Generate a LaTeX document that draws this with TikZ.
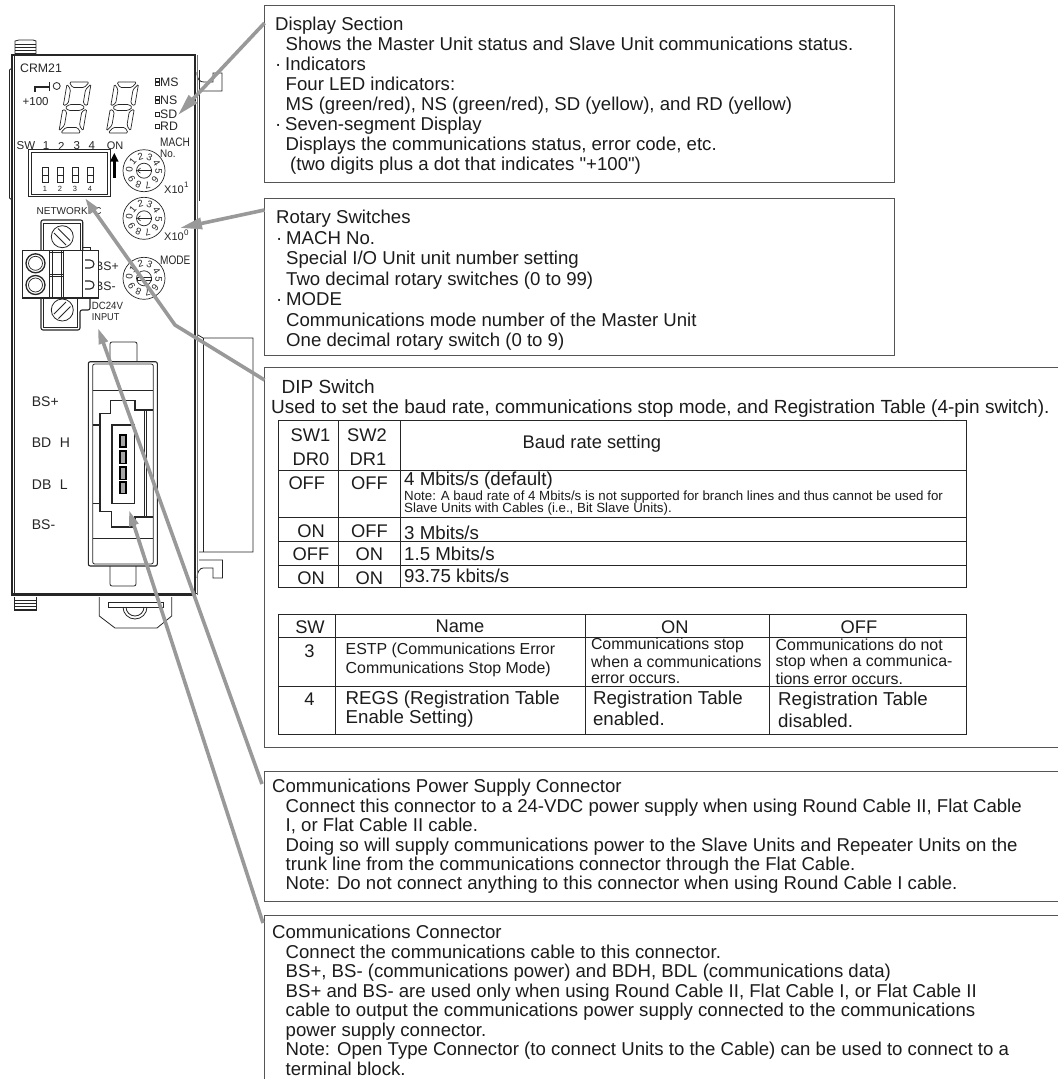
\documentclass[tikz,border=0pt]{standalone}
\usepackage{fontspec}
\setmainfont{Liberation Sans}[Ligatures=TeXOff]
\usetikzlibrary{arrows.meta}
\definecolor{boxln}{HTML}{555555}
\definecolor{leadgr}{HTML}{999999}
\definecolor{txtc}{HTML}{1C1C1C}
\newcommand{\fs}[1]{\fontsize{#1}{#1}\selectfont}
\newcommand{\dotb}{\makebox[10pt][l]{·}}
\newcommand{\sevenseg}[1]{%
\begin{scope}[shift={#1},xslant=0.17,dev,rounded corners=1.5pt,line width=.7pt]
\draw (-10,-25.5)--(10,-25.5)--(6,-20)--(-6,-20)--cycle;
\draw (-12,-23.5)--(-7.5,-18)--(-7.5,-4)--(-12,-1.5)--cycle;
\draw (12,-23.5)--(7.5,-18)--(7.5,-4)--(12,-1.5)--cycle;
\draw (-10,0)--(-6,-3)--(6,-3)--(10,0)--(6,3)--(-6,3)--cycle;
\draw (-12,23.5)--(-7.5,18)--(-7.5,4)--(-12,1.5)--cycle;
\draw (12,23.5)--(7.5,18)--(7.5,4)--(12,1.5)--cycle;
\draw (-10,25.5)--(10,25.5)--(6,20)--(-6,20)--cycle;
\end{scope}}
\newcommand{\rotary}[3]{% name, centre, list of digit/angle
\begin{scope}[shift={#2}]
\draw[dev,line width=.7pt] (0,0) circle (21);
\draw[dev,line width=.7pt] (0,0) circle (7.5);
\foreach \d/\a in {#3}{\node[rotdig,rotate=\a-90] (#1-\d) at (\a:14.7 and -14.7) {\d};}
\end{scope}}
\tikzset{
 x=1pt,y=-1pt,
 dev/.style={draw=black!85,line width=.8pt},
 devthick/.style={draw=black!85,line width=1.1pt},
 boxline/.style={draw=boxln,line width=1pt},
 tabline/.style={draw=black!85,line width=.9pt},
 leader/.style={draw=leadgr,line width=3.6pt,-{Triangle[length=22pt,width=11pt]}},
 leaderb/.style={draw=leadgr,line width=3.6pt,-{Triangle[length=16pt,width=9pt]}},
 body/.style={anchor=north west,inner sep=0pt,align=left,text=txtc,font=\fontsize{18.6}{#1}\selectfont},
 body/.default=20,
 cell/.style={anchor=center,inner sep=0pt,text=txtc,font=\fs{18.3}},
 lcell/.style={anchor=west,inner sep=0pt,text=txtc,font=\fs{18.7}},
 mcell/.style={anchor=west,inner sep=0pt,text=txtc,font=\fs{15.9}},
 small/.style={anchor=west,inner sep=0pt,text=txtc,font=\fs{13.3}},
 lab/.style={anchor=west,inner sep=0pt,text=black!85,font=\fs{12.3}},
 nlab/.style={anchor=west,inner sep=0pt,text=black!85,font=\fs{10}},
 big/.style={anchor=west,inner sep=0pt,text=black!85,font=\fs{14}},
 rotdig/.style={inner sep=0pt,text=black!85,font=\fs{9.6}},
}
\begin{document}
\begin{tikzpicture}
\useasboundingbox (0,0) rectangle (1058,1079);
\fill[white] (0,0) rectangle (1058,1079);
%%% ---- device ----
% screws
\draw[dev] (15,55)--(15,41)--(19,40)--(33,40)--(36,41)--(36,55);
\foreach \yy in {44,47,50,53}{\draw[dev,line width=.5pt] (15,\yy)--(36,\yy);}
\draw[dev] (14.5,597)--(14.5,610)--(36.5,610)--(36.5,597);
\foreach \yy in {600,603,606,609}{\draw[dev,line width=.5pt] (14.5,\yy)--(36.5,\yy);}
% side parts
\draw[dev] (12,68)--(9.5,70)--(9.5,198)--(12,200);
\draw[dev] (199.5,70)--(199.5,201);
\draw[dev] (197,72) .. controls (197,80) and (200,82) .. (204,82) -- (213,82)--(213,73)--(222,73)--(222,91)--(200,91);
\draw[dev] (198,335)--(203,338)--(253,338)--(253,552)--(199,552);
\draw[dev] (203,338)--(203,552);
\draw[dev] (197,578) .. controls (197,572) and (200,568) .. (203,568) -- (213,568)--(213,578)--(222.5,578)--(222.5,560)--(199,560);
% body
\draw[devthick] (12,55) rectangle (195,595);
\draw[dev] (14.5,55)--(14.5,595);
\draw[dev] (12,593)--(197,593);
\draw[draw=black!55,line width=1.6pt] (197.5,55)--(197.5,595);
% latch
\draw[dev] (99.3,597)--(99.3,616)--(115,628)--(157,628)--(171.7,616)--(171.7,597);
\draw[dev] (108,602) rectangle (163,607);
\draw[dev] (123,607) arc[start angle=180,end angle=360,x radius=12,y radius=-12];
\draw[dev] (126,607) arc[start angle=180,end angle=360,x radius=9,y radius=-9];
% labels top
\node[lab] (crm) at (20,68) {CRM21};
\node[nlab,font=\fs{11.5}] (plus) at (22.5,102) {+100};
\draw[devthick] (35,92)--(35,87)--(49,87);
\draw[dev] (49.3,82)--(49.3,91);
\draw[dev] (56.7,86) circle (3.5);
\sevenseg{(75,107.5)}
\sevenseg{(122.5,107.5)}
% LEDs
\node[lab] (ms) at (160,82) {MS};
\node[lab] (ns) at (160,100) {NS};
\node[lab] (sd) at (160,114) {SD};
\node[lab] (rd) at (160,126) {RD};
\foreach \yy in {78,82,96,100}{\draw[dev,line width=.6pt] (155.5,\yy) rectangle +(3.5,3.5);}
\foreach \yy in {112,124}{\draw[dev,line width=.6pt] (155,\yy) rectangle +(4,4);}
% DIP switch
\node[lab,anchor=center,font=\fs{11.5}] (swt) at (26,146) {SW};
\foreach \n/\xx in {1/46,2/61.3,3/76.7,4/91.7}{\node[lab,anchor=center,font=\fs{11.5}] (swn\n) at (\xx,146) {\n};}
\node[lab,anchor=center,font=\fs{11}] (onl) at (115,146) {ON};
\draw[dev,line width=1pt] (28.3,149.3) rectangle (110,196.7);
\draw[dev,line width=.7pt] (31,152) rectangle (107.3,194);
\foreach \n/\xx in {1/45,2/60,3/75,4/90}{
 \draw[dev,line width=.7pt] (\xx-3,167) rectangle (\xx+3,182.7);
 \draw[dev,line width=.7pt] (\xx-3,175)--(\xx+3,175);
 \node[rotdig,font=\fs{7.5}] (swd\n) at (\xx,189) {\n};}
\draw[draw=black,line width=2.4pt,-{Triangle[length=9pt,width=8pt]}] (114.3,178)--(114.3,152.7);
% rotary switches
\node[lab,xscale=.82] (mach) at (160,142.7) {MACH};
\node[lab,font=\fs{11},xscale=.9] (mno) at (160,153.5) {No.};
\rotary{ra}{(144,170.7)}{0/175,1/140,2/104,3/68,4/32,5/-4,6/-40,7/-76,8/-112,9/-148}
\rotary{rb}{(144,218.3)}{0/175,1/140,2/104,3/68,4/32,5/-4,6/-40,7/-76,8/-112,9/-148}
\rotary{rc}{(144,278.3)}{0/175,1/140,2/104,3/68,4/32,5/-4,6/-40,7/-76,8/-112,9/-148}
\draw[dev,line width=.6pt,-{Straight Barb[length=3pt,width=5pt]}] (151,170.7)--(137,170.7);
\draw[dev,line width=.6pt] (151,169)--(151,172.4);
\draw[dev,line width=.6pt,-{Straight Barb[length=3pt,width=5pt]}] (151,218.3)--(137,218.3);
\draw[dev,line width=.6pt] (151,216.6)--(151,220);
\draw[dev,line width=.6pt] (137,276.8) rectangle (151,279.8);
\node[lab,font=\fs{11}] (x1) at (164,189.3) {X10};
\node[lab,font=\fs{8}] (x1s) at (184,184.5) {1};
\node[lab,font=\fs{11}] (x0) at (164,237) {X10};
\node[lab,font=\fs{8}] (x0s) at (184,232.5) {0};
\node[lab,xscale=.82] (mode) at (160,260.7) {MODE};
% power connector
\node[nlab] (netw) at (36.5,210.7) {NETWORKPC};
\node[lab] (bsp) at (95,266) {BS+};
\node[lab] (bsm) at (95,286) {BS-};
\node[nlab,font=\fs{10.5},xscale=.92] (dc) at (91.7,305.7) {DC24V};
\node[nlab,xscale=.92] (inp) at (91.7,317.5) {INPUT};
\draw[devthick,fill=white,rounded corners=2pt] (41,298)--(41,330)--(80,330)--(80,310)--(90,310)--(90,298);
\draw[devthick,fill=white,rounded corners=2pt] (41,251)--(41,220)--(82.7,220)--(82.7,251);
\draw[dev] (43.5,251)--(43.5,223)--(80,223)--(80,251);
\draw[dev] (43.5,298)--(43.5,327.5)--(77.5,327.5)--(77.5,298);
\draw[dev] (62.3,236.7) circle (11);
\draw[dev] (62.3,310) circle (11);
\draw[dev] (54,233)--(66,245) (58,228.5)--(70,240.5);
\draw[dev] (54,314)--(66,302) (58.5,318.5)--(70.5,306.5);
\draw[dev] (82.7,250.7)--(82.7,247)--(90,247)--(90,250.7);
\draw[devthick,fill=white] (22.7,250.7) rectangle (98.3,298);
\draw[dev] (49,250.7)--(49,298) (52,250.7)--(52,298) (61,250.7)--(61,298) (63.5,250.7)--(63.5,298) (82.7,250.7)--(82.7,298);
\draw[dev] (49,252)--(64,252) (49,274)--(64,274) (49,276.5)--(64,276.5);
\draw[dev,line width=1.3pt] (35.5,263.3) circle (9.5);
\draw[dev,line width=.7pt] (35.5,263.3) circle (7);
\draw[dev,line width=1.3pt] (35.5,285) circle (9.5);
\draw[dev,line width=.7pt] (35.5,285) circle (7);
\draw[dev,line width=1.1pt] (85,260)--(90,260) arc[start angle=90,end angle=-90,x radius=4,y radius=-4] --(85,268);
\draw[dev,line width=1.1pt] (85,281)--(90,281) arc[start angle=90,end angle=-90,x radius=4,y radius=-4] --(85,289);
% lower connector
\node[big] (lbp) at (31.7,402) {BS+};
\node[big] (lbh) at (31.7,442.5) {BD\hspace{8.6pt}H};
\node[big] (lbl) at (31.7,484.5) {DB\hspace{8.6pt}L};
\node[big] (lbm) at (31.7,525) {BS-};
\draw[dev,rounded corners=2pt] (110,361.7)--(110,342)--(137,342)--(137,361.7);
\draw[dev,rounded corners=2pt] (110,566)--(110,586)--(136,586)--(136,566);
\draw[devthick,rounded corners=2pt] (88.3,361.7) rectangle (157.3,566);
\draw[dev,rounded corners=2pt] (92.7,364) rectangle (153.3,564);
\draw[dev] (92.7,390)--(153.3,390) (92.7,538.3)--(153.3,538.3);
\draw[devthick] (92.7,425)--(100,425)--(100,413.3)--(110.7,413.3)--(110.7,400.7)--(135,400.7)--(135,410)--(153.3,410);
\draw[devthick] (92.7,503.3)--(100,503.3) (100,413.3)--(100,511.7)--(111.7,511.7)--(111.7,527)--(135,527)--(135,517)--(153.3,517);
\draw[dev] (144,410)--(144,517) (146.5,410)--(146.5,517);
\draw[devthick,line width=1.6pt] (111.7,425) rectangle (134.3,503.3);
\foreach \ya/\yb in {435/447,450.7/463.3,466.7/479.3,481.7/493.3}{
 \draw[draw=black,fill=black!35,line width=1.6pt] (120,\ya) rectangle (126,\yb);}
%%% ---- callout boxes ----
\node[body=20] (tdisp) at (275,17.2) {Display Section\\
\hspace*{10.5pt}Shows the Master Unit status and Slave Unit communications status.\\
\dotb Indicators\\
\hspace*{10.5pt}Four LED indicators:\\
\hspace*{10.5pt}MS (green/red), NS (green/red), SD (yellow), and RD (yellow)\\
\dotb Seven-segment Display\\
\hspace*{10.5pt}Displays the communications status, error code, etc.\\
\hspace*{15pt}(two digits plus a dot that indicates "+100")};
\node[body=20.5] (trot) at (276,209.9) {Rotary Switches\\
\dotb MACH No.\\
\hspace*{10pt}Special I/O Unit unit number setting\\
\hspace*{10pt}Two decimal rotary switches (0 to 99)\\
\dotb MODE\\
\hspace*{10pt}Communications mode number of the Master Unit\\
\hspace*{10pt}One decimal rotary switch (0 to 9)};
\node[body=20,font=\fontsize{19}{20}\selectfont] (tdip) at (271,379.9) {\hspace*{10.5pt}DIP Switch\\
Used to set the baud rate, communications stop mode, and Registration Table (4-pin switch).};
\node[body=19.4] (tpow) at (272,779.2) {Communications Power Supply Connector\\
\hspace*{13.5pt}Connect this connector to a 24-VDC power supply when using Round Cable II, Flat Cable\\
\hspace*{13.5pt}I, or Flat Cable II cable.\\
\hspace*{13.5pt}Doing so will supply communications power to the Slave Units and Repeater Units on the\\
\hspace*{13.5pt}trunk line from the communications connector through the Flat Cable.\\
\hspace*{13.5pt}Note: Do not connect anything to this connector when using Round Cable I cable.};
\node[body=19.5] (tcom) at (272,924.9) {Communications Connector\\
\hspace*{13.5pt}Connect the communications cable to this connector.\\
\hspace*{13.5pt}BS+, BS- (communications power) and BDH, BDL (communications data)\\
\hspace*{13.5pt}BS+ and BS- are used only when using Round Cable II, Flat Cable I, or Flat Cable II\\
\hspace*{13.5pt}cable to output the communications power supply connected to the communications\\
\hspace*{13.5pt}power supply connector.\\
\hspace*{13.5pt}Note: Open Type Connector (to connect Units to the Cable) can be used to connect to a\\
\hspace*{13.5pt}terminal block.};
\draw[boxline] (264.5,5) coordinate (cdisp) rectangle (894,182.7);
\draw[boxline] (264.5,198) coordinate (crot) rectangle (894,355);
\draw[boxline] (1058,367.7)--(264.5,367.7) coordinate (cdip) --(264.5,747.7)--(1058,747.7);
\draw[boxline] (1058,771.7)--(264.5,771.7) coordinate (cpow) --(264.5,901)--(1058,901);
\draw[boxline] (1058,915)--(264.5,915) coordinate (ccom) --(264.5,1079);
%%% ---- tables ----
\draw[tabline] (278.8,420.7) rectangle (966.7,587.7);
\draw[tabline] (278.8,470.3)--(966.7,470.3) (278.8,517.3)--(966.7,517.3) (278.8,541)--(966.7,541) (278.8,565.3)--(966.7,565.3);
\draw[tabline] (338.4,420.7)--(338.4,587.7) (400,420.7)--(400,587.7);
\node[cell] (a1) at (310.4,435) {SW1};
\node[cell] (a2) at (366.9,435) {SW2};
\node[cell] (a3) at (311,459) {DR0};
\node[cell] (a4) at (368,459) {DR1};
\node[cell] (a5) at (591.8,444) {Baud rate setting};
\node[cell] (b1) at (306.8,482.7) {OFF};
\node[cell] (b2) at (369.4,482.7) {OFF};
\node[lcell] (b3) at (404,481) {4 Mbits/s (default)};
\node[small] (b4) at (404,496.7) {Note: A baud rate of 4 Mbits/s is not supported for branch lines and thus cannot be used for};
\node[small] (b5) at (404,509.3) {Slave Units with Cables (i.e., Bit Slave Units).};
\node[cell] (c1) at (311,530.7) {ON};
\node[cell] (c2) at (369.4,530.7) {OFF};
\node[lcell] (c3) at (404,532.7) {3 Mbits/s};
\node[cell] (d1) at (311,554) {OFF};
\node[cell] (d2) at (369.4,554) {ON};
\node[lcell] (d3) at (404,554) {1.5 Mbits/s};
\node[cell] (e1) at (311,578) {ON};
\node[cell] (e2) at (369.4,578) {ON};
\node[lcell] (e3) at (404,575.7) {93.75 kbits/s};
\draw[tabline] (278.8,614) rectangle (966.7,734);
\draw[tabline] (278.8,637)--(966.7,637) (278.8,686)--(966.7,686);
\draw[tabline] (335.8,614)--(335.8,734) (585.2,614)--(585.2,734) (769.9,614)--(769.9,734);
\node[cell] (f1) at (310,626.7) {SW};
\node[cell] (f2) at (460,626.7) {Name};
\node[cell] (f3) at (674.8,626.7) {ON};
\node[cell] (f4) at (859,626.7) {OFF};
\node[cell] (g1) at (309.4,650.7) {3};
\node[mcell] (g2) at (345.5,650) {ESTP (Communications Error};
\node[mcell] (g3) at (345.5,669.3) {Communications Stop Mode)};
\node[mcell] (g4) at (590.8,645) {Communications stop};
\node[mcell] (g5) at (590.8,662.3) {when a communications};
\node[mcell] (g6) at (590.8,679.3) {error occurs.};
\node[mcell] (g7) at (775.5,645) {Communications do not};
\node[mcell] (g8) at (775.5,662.3) {stop when a communica-};
\node[mcell] (g9) at (775.5,679.3) {tions error occurs.};
\node[cell] (h1) at (309.4,699) {4};
\node[lcell] (h2) at (345.5,700) {REGS (Registration Table};
\node[lcell] (h3) at (345.5,719) {Enable Setting)};
\node[lcell] (h4) at (592.8,700) {Registration Table};
\node[lcell] (h5) at (592.8,719) {enabled.};
\node[lcell] (h6) at (778,701) {Registration Table};
\node[lcell] (h7) at (778,721) {disabled.};
%%% ---- leaders ----
\coordinate (tipdisp) at (178,115);
\coordinate (tiprot) at (180,228);
\coordinate (tipdip) at (85,198);
\coordinate (benddip) at (175,325);
\coordinate (tippow) at (98,328);
\coordinate (tipcom) at (129,510);
\coordinate (sdisp) at (264.5,23);
\coordinate (srot) at (264.5,210);
\coordinate (sdip) at (264.5,380);
\coordinate (spow) at (262,784);
\coordinate (scom) at (263,923);
\draw[leader] (sdisp)--(tipdisp);
\draw[leader] (srot)--(tiprot);
\draw[leaderb] (sdip)--(benddip)--(tipdip);
\draw[leaderb] (spow)--(tippow);
\draw[leaderb] (scom)--(tipcom);
\end{tikzpicture}
\end{document}
